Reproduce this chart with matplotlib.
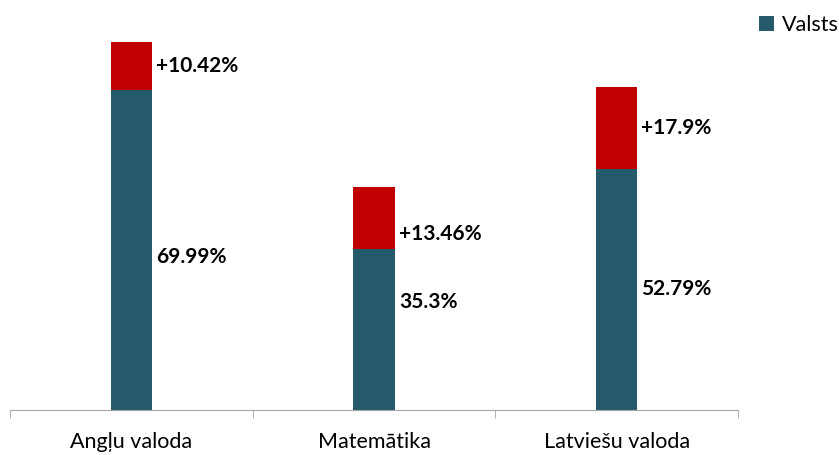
import numpy as np
import matplotlib.pyplot as plt

categories = ['Angļu valoda', 'Matemātika', 'Latviešu valoda']
valsts = [69.99, 35.3, 52.79]
pieaugums = [10.42, 13.46, 17.9]
valsts_labels = ['69.99%', '35.3%', '52.79%']
pieaugums_labels = ['+10.42%', '+13.46%', '+17.9%']

teal = '#245a69'
red = '#c00000'

fig = plt.figure(figsize=(8.39, 4.55), dpi=100)
ax = fig.add_axes([10/839, 45/455, 728/839, 407/455])

x = np.arange(len(categories))
w = 0.17
ax.bar(x, valsts, w, color=teal, label='Valsts')
ax.bar(x, pieaugums, w, bottom=valsts, color=red)

# label nudges in points, the original labels are not exactly centred
dy_v = [-5, 19.5, 0]
dy_p = [0, -11.5, 0]
for i in range(len(categories)):
    ax.annotate(valsts_labels[i], (x[i] + w/2, valsts[i]/2), xytext=(3, dy_v[i]),
                textcoords='offset points', va='center', ha='left',
                fontsize=15, fontweight='bold', family='Lato')
    ax.annotate(pieaugums_labels[i], (x[i] + w/2, valsts[i] + pieaugums[i]/2),
                xytext=(3, dy_p[i]), textcoords='offset points', va='center', ha='left',
                fontsize=15, fontweight='bold', family='Lato')

ax.set_xlim(-0.5, 2.5)
ax.set_ylim(0, 89)
ax.set_yticks([])
for s in ['left', 'right', 'top']:
    ax.spines[s].set_visible(False)
ax.spines['bottom'].set_color('#a6a6a6')
ax.set_xticks(x)
ax.set_xticklabels(categories, fontsize=15.5, family='Lato')
ax.set_xticks([-0.5, 0.5, 1.5, 2.5], minor=True)
ax.tick_params(axis='x', which='major', length=0, pad=16)
ax.tick_params(axis='x', which='minor', length=6, color='#a6a6a6', direction='out')

fig.legend(loc='upper right', bbox_to_anchor=(1.013, 0.99), frameon=False,
           prop={'family': 'Lato', 'size': 15.5}, handlelength=0.7, handleheight=0.7,
           handletextpad=0.4, borderaxespad=0.1)

fig.savefig('out.png', dpi=100)
